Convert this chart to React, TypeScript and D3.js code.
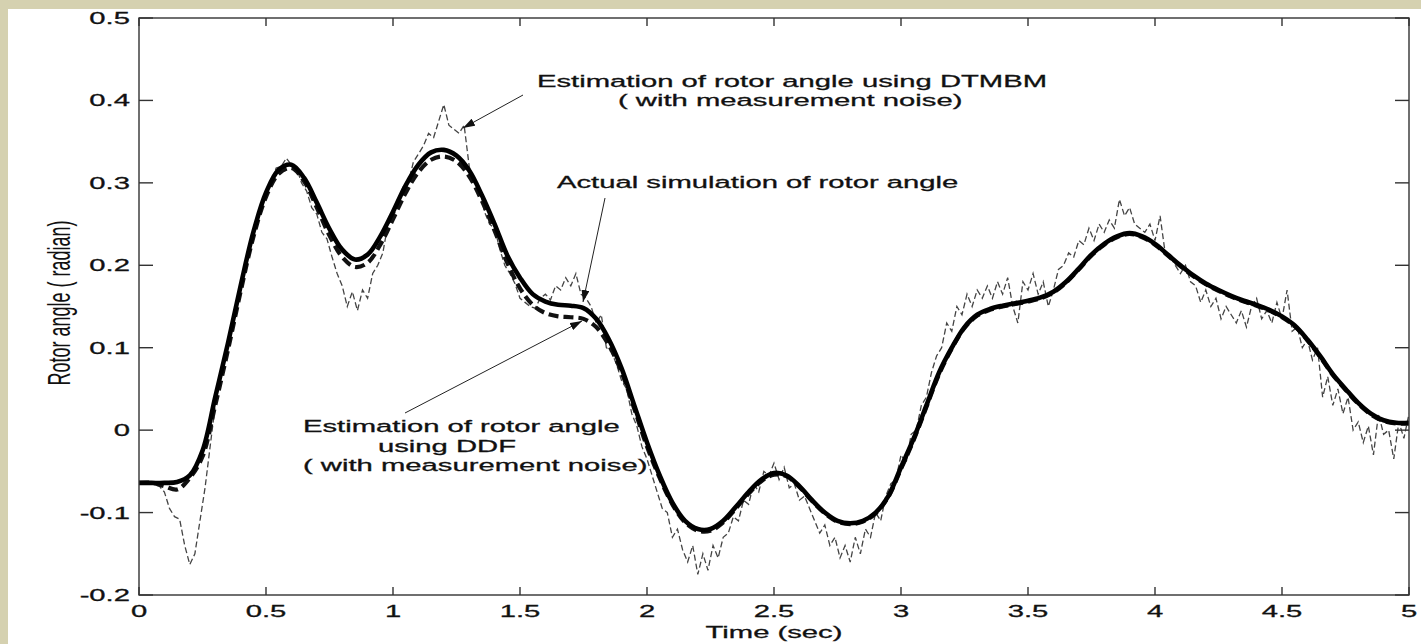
import React from 'react';
import * as d3 from 'd3';

const W = 1421;
const H = 644;

// Axis ticks
const xTicks = [0, 0.5, 1, 1.5, 2, 2.5, 3, 3.5, 4, 4.5, 5];
const xTickLabels = ['0', '0.5', '1', '1.5', '2', '2.5', '3', '3.5', '4', '4.5', '5'];
const yTicks = [-0.2, -0.1, 0, 0.1, 0.2, 0.3, 0.4, 0.5];
const yTickLabels = ['-0.2', '-0.1', '0', '0.1', '0.2', '0.3', '0.4', '0.5'];

// Sample interval (s) of the smooth traces
const SMOOTH_DT = 0.05;

// Actual simulated rotor angle (radian)
const actualAngle = [
  -0.064, -0.064, -0.064, -0.063, -0.055, -0.025, 0.04, 0.105, 0.175, 0.24,
  0.288, 0.316, 0.322, 0.306, 0.276, 0.244, 0.219, 0.207, 0.213, 0.235,
  0.265, 0.297, 0.322, 0.337, 0.34, 0.333, 0.315, 0.285, 0.25, 0.212,
  0.185, 0.165, 0.156, 0.152, 0.151, 0.148, 0.135, 0.11, 0.075, 0.03,
  -0.015, -0.055, -0.088, -0.11, -0.12, -0.12, -0.11, -0.093, -0.075, -0.06,
  -0.052, -0.055, -0.068, -0.085, -0.1, -0.11, -0.113, -0.11, -0.1, -0.08,
  -0.045, -0.01, 0.03, 0.07, 0.1, 0.125, 0.14, 0.147, 0.151, 0.154,
  0.157, 0.161, 0.168, 0.18, 0.196, 0.213, 0.226, 0.235, 0.239, 0.235,
  0.226, 0.213, 0.2, 0.188, 0.178, 0.17, 0.163, 0.157, 0.152, 0.146,
  0.138, 0.127, 0.11, 0.09, 0.068, 0.05, 0.033, 0.02, 0.012, 0.009,
  0.009,
];

// DDF estimate (with measurement noise)
const ddfEstimate = [
  -0.064, -0.064, -0.068, -0.072, -0.058, -0.032, 0.03, 0.097, 0.168, 0.234,
  0.283, 0.311, 0.318, 0.302, 0.27, 0.236, 0.21, 0.198, 0.203, 0.225,
  0.256, 0.288, 0.313, 0.328, 0.332, 0.326, 0.308, 0.278, 0.242, 0.203,
  0.172, 0.152, 0.142, 0.138, 0.137, 0.135, 0.125, 0.103, 0.07, 0.026,
  -0.02, -0.058, -0.09, -0.112, -0.122, -0.122, -0.112, -0.095, -0.077, -0.062,
  -0.054, -0.056, -0.069, -0.086, -0.101, -0.111, -0.114, -0.111, -0.101, -0.081,
  -0.047, -0.012, 0.028, 0.068, 0.099, 0.124, 0.139, 0.146, 0.15, 0.153,
  0.156, 0.16, 0.167, 0.179, 0.195, 0.212, 0.225, 0.234, 0.238, 0.234,
  0.225, 0.212, 0.199, 0.187, 0.177, 0.169, 0.162, 0.156, 0.151, 0.145,
  0.137, 0.126, 0.109, 0.089, 0.067, 0.049, 0.032, 0.019, 0.011, 0.008,
  0.008,
];

// Sample interval (s) of the DTMBM trace
const NOISY_DT = 0.02;

// DTMBM estimate (with measurement noise)
const dtmbmEstimate = [
  -0.064, -0.065, -0.064, -0.066, -0.068, -0.075, -0.095, -0.105, -0.108, -0.14,
  -0.163, -0.15, -0.11, -0.07, -0.02, 0.03, 0.07, 0.09, 0.12, 0.15,
  0.17, 0.2, 0.228, 0.245, 0.27, 0.285, 0.3, 0.318, 0.32, 0.33,
  0.322, 0.318, 0.3, 0.29, 0.27, 0.262, 0.24, 0.232, 0.21, 0.19,
  0.175, 0.15, 0.168, 0.145, 0.17, 0.16, 0.19, 0.2, 0.215, 0.25,
  0.255, 0.28, 0.295, 0.3, 0.325, 0.335, 0.345, 0.36, 0.355, 0.375,
  0.395, 0.37, 0.365, 0.36, 0.37, 0.32, 0.3, 0.295, 0.265, 0.25,
  0.245, 0.22, 0.2, 0.19, 0.178, 0.16, 0.155, 0.15, 0.148, 0.16,
  0.165, 0.158, 0.175, 0.17, 0.185, 0.175, 0.19, 0.165, 0.16, 0.15,
  0.13, 0.14, 0.1, 0.095, 0.08, 0.06, 0.05, 0.02, 0.005, -0.02,
  -0.035, -0.055, -0.075, -0.095, -0.1, -0.13, -0.12, -0.145, -0.16, -0.14,
  -0.175, -0.15, -0.17, -0.14, -0.155, -0.13, -0.125, -0.105, -0.11, -0.085,
  -0.09, -0.065, -0.075, -0.05, -0.055, -0.04, -0.06, -0.045, -0.07, -0.065,
  -0.085, -0.08, -0.095, -0.11, -0.125, -0.115, -0.14, -0.13, -0.155, -0.14,
  -0.16, -0.13, -0.15, -0.12, -0.13, -0.1, -0.11, -0.08, -0.065, -0.06,
  -0.03, -0.04, -0.005, 0.0, 0.03, 0.04, 0.07, 0.09, 0.1, 0.13,
  0.12, 0.15, 0.14, 0.165, 0.15, 0.17, 0.16, 0.175, 0.16, 0.18,
  0.165, 0.185, 0.15, 0.13, 0.18, 0.17, 0.19, 0.165, 0.18, 0.15,
  0.17, 0.195, 0.2, 0.215, 0.21, 0.23, 0.225, 0.245, 0.23, 0.25,
  0.24, 0.255, 0.245, 0.28, 0.26, 0.27, 0.25, 0.245, 0.24, 0.25,
  0.23, 0.26, 0.215, 0.21, 0.2, 0.19, 0.2, 0.18, 0.175, 0.155,
  0.17, 0.15, 0.16, 0.135, 0.15, 0.14, 0.13, 0.145, 0.125, 0.15,
  0.16, 0.135, 0.145, 0.13, 0.155, 0.135, 0.17, 0.12, 0.125, 0.1,
  0.11, 0.085, 0.1, 0.04, 0.065, 0.03, 0.05, 0.02, 0.04, 0.0,
  0.01, -0.015, 0.005, -0.03, 0.02, -0.005, 0.0, -0.035, 0.01, -0.01,
  0.02,
];

const FONT = '"Liberation Sans", Arial, Helvetica, sans-serif';
const SX = 1.72; // horizontal glyph stretch of the printed figure

function SText({ x, y, anchor = 'start', size = 17, children }: any) {
  return (
    <text
      transform={`translate(${x},${y}) scale(${SX},1)`}
      textAnchor={anchor}
      fontSize={size}
      fontFamily={FONT}
      fill="#111"
      stroke="#111"
      strokeWidth={0.3}
    >
      {children}
    </text>
  );
}

export default function App() {
  const x = d3.scaleLinear().domain([0, 5]).range([139, 1409]);
  const y = d3.scaleLinear().domain([-0.2, 0.5]).range([595, 18]);

  const smoothLine = d3
    .line<number>()
    .x((_, i) => x(i * SMOOTH_DT))
    .y((d) => y(d))
    .curve(d3.curveCatmullRom.alpha(0.5));

  const noisyLine = d3
    .line<number>()
    .x((_, i) => x(i * NOISY_DT))
    .y((d) => y(d));

  const [x0, x1] = x.range();
  const [y0, y1] = y.range();

  return (
    <div style={{ position: 'absolute', left: 0, top: 0 }}>
      <svg width={W} height={H} style={{ display: 'block' }}>
        <defs>
          <clipPath id="plotClip">
            <rect x={x0} y={y1} width={x1 - x0} height={y0 - y1} />
          </clipPath>
          <marker
            id="arrowHead"
            markerUnits="userSpaceOnUse"
            markerWidth={12}
            markerHeight={8}
            refX={12}
            refY={4}
            orient="auto"
          >
            <path d="M0,0 L12,4 L0,8 Z" fill="#111" />
          </marker>
        </defs>

        {/* page background and white figure panel */}
        <rect x={0} y={0} width={W} height={H} fill="#d5d1b0" />
        <rect x={8} y={9} width={W - 8} height={H - 9} fill="#ffffff" />

        {/* traces */}
        <g clipPath="url(#plotClip)" fill="none">
          <path
            d={noisyLine(dtmbmEstimate) || ''}
            stroke="#444"
            strokeWidth={1.3}
            strokeDasharray="6,3"
          />
          <path
            d={smoothLine(ddfEstimate) || ''}
            stroke="#111"
            strokeWidth={4.2}
            strokeDasharray="10,5"
          />
          <path d={smoothLine(actualAngle) || ''} stroke="#000" strokeWidth={4.6} />
        </g>

        {/* axes box */}
        <rect
          x={x0}
          y={y1}
          width={x1 - x0}
          height={y0 - y1}
          fill="none"
          stroke="#333"
          strokeWidth={1.4}
        />
        <g stroke="#333" strokeWidth={1.4}>
          {xTicks.map((t) => (
            <g key={'xt' + t}>
              <line x1={x(t)} x2={x(t)} y1={y0} y2={y0 - 8} />
              <line x1={x(t)} x2={x(t)} y1={y1} y2={y1 + 8} />
            </g>
          ))}
          {yTicks.map((t) => (
            <g key={'yt' + t}>
              <line x1={x0} x2={x0 + 14} y1={y(t)} y2={y(t)} />
              <line x1={x1} x2={x1 - 14} y1={y(t)} y2={y(t)} />
            </g>
          ))}
        </g>

        {/* tick labels */}
        {xTicks.map((t, i) => (
          <SText key={'xl' + t} x={x(t)} y={617} anchor="middle">
            {xTickLabels[i]}
          </SText>
        ))}
        {yTicks.map((t, i) => (
          <SText key={'yl' + t} x={130} y={y(t) + 6} anchor="end">
            {yTickLabels[i]}
          </SText>
        ))}

        {/* axis titles */}
        <SText x={(x0 + x1) / 2} y={638} anchor="middle">
          Time (sec)
        </SText>
        <text
          transform={`translate(70,303) rotate(-90) scale(1,${SX})`}
          textAnchor="middle"
          fontSize={18}
          fontFamily={FONT}
          fill="#111"
        >
          Rotor angle ( radian)
        </text>

        {/* annotations */}
        <SText x={537} y={87}>Estimation of rotor angle using DTMBM</SText>
        <SText x={618} y={106}>( with measurement noise)</SText>
        <line
          x1={523}
          y1={95}
          x2={463}
          y2={128}
          stroke="#222"
          strokeWidth={1}
          markerEnd="url(#arrowHead)"
        />

        <SText x={557} y={188}>Actual simulation of rotor angle</SText>
        <line
          x1={605}
          y1={198}
          x2={583}
          y2={302}
          stroke="#222"
          strokeWidth={1}
          markerEnd="url(#arrowHead)"
        />

        <SText x={303} y={432}>Estimation of rotor angle</SText>
        <SText x={378} y={452}>using DDF</SText>
        <SText x={303} y={471}>( with measurement noise)</SText>
        <line
          x1={405}
          y1={413}
          x2={582}
          y2={321}
          stroke="#222"
          strokeWidth={1}
          markerEnd="url(#arrowHead)"
        />
      </svg>
    </div>
  );
}
